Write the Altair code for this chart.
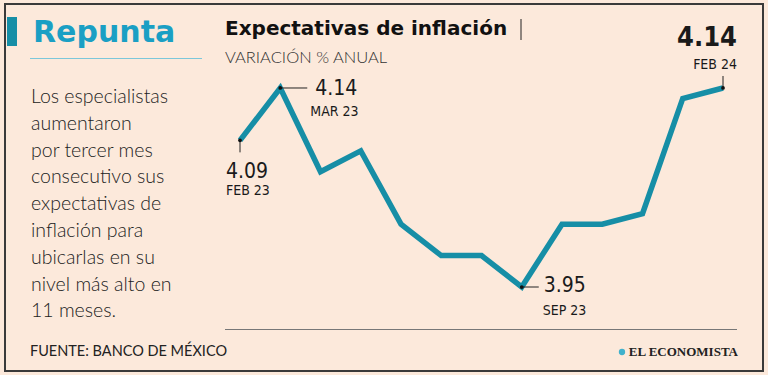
import altair as alt
import pandas as pd

months = ["FEB 23", "MAR 23", "ABR 23", "MAY 23", "JUN 23", "JUL 23", "AGO 23",
          "SEP 23", "OCT 23", "NOV 23", "DIC 23", "ENE 24", "FEB 24"]
values = [4.09, 4.14, 4.06, 4.08, 4.01, 3.98, 3.98, 3.95, 4.01, 4.01, 4.02, 4.13, 4.14]

title = "Expectativas de inflación"
subtitle = "VARIACIÓN % ANUAL"
headline = "Repunta"
body = ["Los especialistas", "aumentaron", "por tercer mes", "consecutivo sus",
        "expectativas de", "inflación para", "ubicarlas en su", "nivel más alto en",
        "11 meses."]
source = "FUENTE: BANCO DE MÉXICO"
brand = "EL ECONOMISTA"

BG = "#fce9db"
TEAL = "#168ea6"
COND = "DejaVu Sans Condensed, Roboto, sans-serif"
SANS = "Lato"
HEAVY = "DejaVu Sans"

df = pd.DataFrame({"i": list(range(len(months))), "v": values, "m": months})
df["lbl"] = df["v"].map(lambda x: f"{x:.2f}")

xs = alt.Scale(domain=[-5.963, 13.118], nice=False, zero=False)
ys = alt.Scale(domain=[3.866, 4.224], nice=False, zero=False)
X = alt.X("i:Q", scale=xs, axis=None)
Y = alt.Y("v:Q", scale=ys, axis=None)

base = alt.Chart(df)

line = base.mark_line(color=TEAL, strokeWidth=5.5, strokeJoin="miter").encode(x=X, y=Y)


def ann(idx, vdx, vdy, ddx, ddy, align, vsize, vbold, rule_kw):
    d = base.transform_filter(alt.datum.i == idx)
    tick = d.mark_rule(color="#222", strokeWidth=1, **rule_kw).encode(
        x=X, y=Y, x2="i:Q", y2="v:Q")
    dot = d.mark_circle(color="#111", size=14, opacity=1).encode(x=X, y=Y)
    val = d.mark_text(font=COND, fontSize=vsize, fontWeight="bold" if vbold else "normal",
                      color="#1a1a1a", align=align, baseline="middle", dx=vdx, dy=vdy).encode(
        x=X, y=Y, text="lbl:N")
    date = d.mark_text(font=COND, fontSize=14, color="#1a1a1a", align=align,
                       baseline="middle", dx=ddx, dy=ddy).encode(x=X, y=Y, text="m:N")
    return [tick, dot, val, date]


layers = [line]
layers += ann(0, -14, 32, -14, 51, "left", 21, False, {"y2Offset": 12})
layers += ann(1, 35, 1, 30, 24, "left", 21, False, {"x2Offset": 27})
layers += ann(7, 22, -1, 21, 24, "left", 21, False, {"x2Offset": 17})
layers += ann(12, 14, -50, 14, -23, "right", 27, True, {"y2Offset": -12})


def txt(s, x, y, **kw):
    return alt.Chart(pd.DataFrame({"t": [s]})).mark_text(baseline="middle", **kw).encode(
        x=alt.value(x), y=alt.value(y), text="t:N")


one = pd.DataFrame({"a": [0]})
border = alt.Chart(one).mark_rect(fill=None, stroke="#3a3a3a", strokeWidth=2).encode(
    x=alt.value(5), x2=alt.value(763), y=alt.value(4), y2=alt.value(371))
bar = alt.Chart(one).mark_rect(color=TEAL).encode(
    x=alt.value(7), x2=alt.value(17), y=alt.value(17), y2=alt.value(46))
uline = alt.Chart(one).mark_rule(color="#7cc7da", strokeWidth=1).encode(
    x=alt.value(30), x2=alt.value(202), y=alt.value(58.5))
bline = alt.Chart(one).mark_rule(color="#777", strokeWidth=1).encode(
    x=alt.value(225), x2=alt.value(737), y=alt.value(329.5))
sep = alt.Chart(one).mark_rule(color="#222", strokeWidth=1).encode(
    x=alt.value(521), y=alt.value(19), y2=alt.value(40))
icon = alt.Chart(one).mark_circle(color="#3fb1cc", size=40, opacity=1).encode(
    x=alt.value(622), y=alt.value(352))

statics = [
    border, bar, uline, bline, sep, icon,
    txt(headline, 33, 33, font=HEAVY, fontSize=30, fontWeight="bold", color="#1a9fc4", align="left"),
    txt(title, 225, 29, font=HEAVY, fontSize=20, fontWeight="bold", color="#111", align="left"),
    txt(subtitle, 225, 58, font=SANS, fontSize=16.5, fontWeight=300, color="#333", align="left"),
    alt.Chart(pd.DataFrame({"t": ["\n".join(body)]})).mark_text(
        baseline="top", align="left", font=SANS, fontSize=19.5, fontWeight=300,
        color="#222", lineBreak="\n", lineHeight=26.8).encode(
        x=alt.value(31), y=alt.value(88), text="t:N"),
    txt(source, 30, 352, font=SANS, fontSize=14.5, fontWeight=400, color="#222", align="left"),
    txt(brand, 738, 352, font="Liberation Serif", fontSize=13, fontWeight="bold",
        color="#222", align="right"),
]

chart = alt.layer(*statics, *layers).properties(
    width=768, height=375, background=BG, padding=0,
    autosize=alt.AutoSizeParams(type="none"),
).configure_view(stroke=None)

chart.save("out.html", embed_options={"renderer": "svg", "actions": False})
